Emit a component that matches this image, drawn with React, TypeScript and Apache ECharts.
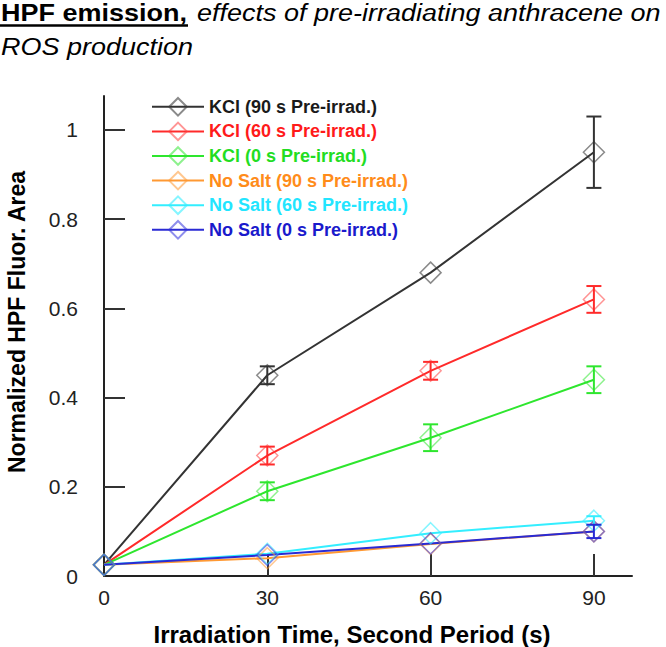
import React, { useEffect, useRef } from "react";
import * as echarts from "echarts";

// ---------- data ----------
const times = [0, 30, 60, 90];

const seriesNames = [
  "KCl (90 s Pre-irrad.)",
  "KCl (60 s Pre-irrad.)",
  "KCl (0 s Pre-irrad.)",
  "No Salt (90 s Pre-irrad.)",
  "No Salt (60 s Pre-irrad.)",
  "No Salt (0 s Pre-irrad.)",
];

const kcl90 = [0.025, 0.45, 0.68, 0.95];
const kcl60 = [0.025, 0.27, 0.46, 0.62];
const kcl0 = [0.025, 0.19, 0.31, 0.44];
const noSalt90 = [0.025, 0.04, 0.072, 0.1];
const noSalt60 = [0.025, 0.05, 0.096, 0.124];
const noSalt0 = [0.025, 0.047, 0.073, 0.1];

const kcl90Err = [0, 0.02, 0, 0.08];
const kcl60Err = [0, 0.02, 0.02, 0.03];
const kcl0Err = [0, 0.02, 0.03, 0.03];
const noSalt90Err = [0, 0, 0, 0];
const noSalt60Err = [0, 0, 0, 0.01];
const noSalt0Err = [0, 0, 0, 0.015];

const xTickValues = [30, 60, 90];
const xLabelValues = [0, 30, 60, 90];
const yTickValues = [0.2, 0.4, 0.6, 0.8, 1];
const yLabelValues = [0, 0.2, 0.4, 0.6, 0.8, 1];

const titleBold = "HPF emission,";
const titleItalic1 = "effects of pre-irradiating anthracene on";
const titleItalic2 = "ROS production";
const xTitle = "Irradiation Time, Second Period (s)";
const yTitle = "Normalized HPF Fluor. Area";

// ---------- styles ----------
const lineColors = ["#333333", "#ff2a2a", "#2ee62e", "#ff9933", "#33eeff", "#2a2ad4"];
const markerColors = [
  "rgba(60,60,60,0.6)",
  "rgba(255,60,60,0.55)",
  "rgba(50,230,50,0.55)",
  "rgba(255,153,51,0.55)",
  "rgba(51,238,255,0.6)",
  "rgba(50,50,220,0.55)",
];
const textColors = ["#1a1a1a", "#ff1a1a", "#22dd22", "#ff8c1a", "#22e5ff", "#1a1acc"];

const FONT = "'Liberation Sans', Arial, sans-serif";

export default function App() {
  const ref = useRef<HTMLDivElement>(null);

  useEffect(() => {
    if (!ref.current) return;
    const chart = echarts.init(ref.current, undefined, { renderer: "svg" });

    const values = [kcl90, kcl60, kcl0, noSalt90, noSalt60, noSalt0];
    const errs = [kcl90Err, kcl60Err, kcl0Err, noSalt90Err, noSalt60Err, noSalt0Err];

    const lineSeries = values.map((vals, i) => ({
      type: "line",
      name: seriesNames[i],
      data: times.map((t, j) => [t, vals[j]]),
      symbol: "diamond",
      symbolSize: 21,
      showAllSymbol: true,
      lineStyle: { color: lineColors[i], width: 2 },
      itemStyle: { color: "rgba(0,0,0,0)", borderColor: markerColors[i], borderWidth: 1.5 },
      emphasis: { disabled: true },
      z: 2,
    }));

    const errSeries = values.map((vals, i) => ({
      type: "custom",
      name: seriesNames[i] + " error",
      data: times.map((t, j) => [t, vals[j], errs[i][j]]),
      z: 3,
      renderItem: (params: any, api: any) => {
        const x = api.value(0);
        const y = api.value(1);
        const e = api.value(2);
        if (!e) return { type: "group", children: [] };
        const top = api.coord([x, y + e]);
        const bot = api.coord([x, y - e]);
        const hw = 7.5;
        const st = { stroke: lineColors[i], lineWidth: 2 };
        return {
          type: "group",
          children: [
            { type: "line", shape: { x1: top[0], y1: top[1], x2: bot[0], y2: bot[1] }, style: st },
            { type: "line", shape: { x1: top[0] - hw, y1: top[1], x2: top[0] + hw, y2: top[1] }, style: st },
            { type: "line", shape: { x1: bot[0] - hw, y1: bot[1], x2: bot[0] + hw, y2: bot[1] }, style: st },
          ],
        };
      },
    }));

    const option: any = {
      animation: false,
      backgroundColor: "#ffffff",
      grid: {
        left: 104,
        right: 34,
        top: 96,
        bottom: 71,
        containLabel: false,
        outerBoundsMode: "none",
      },
      legend: {
        orient: "vertical",
        left: 146,
        top: 92,
        itemWidth: 52,
        itemHeight: 22,
        itemGap: 5,
        selectedMode: false,
        data: seriesNames.map((n, i) => ({
          name: n,
          textStyle: {
            color: textColors[i],
            fontSize: 18,
            fontWeight: "bold",
            fontFamily: FONT,
          },
        })),
      },
      xAxis: {
        type: "value",
        min: 0,
        max: 97,
        splitLine: { show: false },
        axisLine: { show: true, lineStyle: { color: "#222", width: 2 } },
        axisTick: {
          show: true,
          inside: true,
          length: 22,
          customValues: xTickValues,
          lineStyle: { color: "#333", width: 2 },
        },
        axisLabel: {
          customValues: xLabelValues,
          color: "#222",
          fontSize: 21,
          fontFamily: FONT,
          margin: 11,
          lineHeight: 21,
        },
      },
      yAxis: {
        type: "value",
        min: 0,
        max: 1.076,
        splitLine: { show: false },
        axisLine: { show: true, lineStyle: { color: "#222", width: 2 } },
        axisTick: {
          show: true,
          inside: true,
          length: 21,
          customValues: yTickValues,
          lineStyle: { color: "#333", width: 2 },
        },
        axisLabel: {
          customValues: yLabelValues,
          color: "#222",
          fontSize: 21,
          fontFamily: FONT,
          margin: 26,
        },
      },
      graphic: [
        {
          type: "text",
          x: 1,
          y: 12.5,
          scaleX: 1.125,
          style: {
            text: titleBold,
            font: `bold 24px ${FONT}`,
            fill: "#000",
            textVerticalAlign: "middle",
            verticalAlign: "middle",
          },
        },
        {
          type: "line",
          shape: { x1: 0, y1: 25.5, x2: 188, y2: 25.5 },
          style: { stroke: "#000", lineWidth: 2.5 },
        },
        {
          type: "text",
          x: 197,
          y: 12.5,
          scaleX: 1.125,
          style: {
            text: titleItalic1,
            font: `italic 24px ${FONT}`,
            fill: "#000",
            textVerticalAlign: "middle",
            verticalAlign: "middle",
          },
        },
        {
          type: "text",
          x: 1,
          y: 46.5,
          scaleX: 1.125,
          style: {
            text: titleItalic2,
            font: `italic 24px ${FONT}`,
            fill: "#000",
            textVerticalAlign: "middle",
            verticalAlign: "middle",
          },
        },
        {
          type: "text",
          x: 352,
          y: 634,
          style: {
            text: xTitle,
            font: `bold 24px ${FONT}`,
            fill: "#000",
            align: "center",
            textAlign: "center",
            verticalAlign: "middle",
            textVerticalAlign: "middle",
          },
        },
        {
          type: "text",
          x: 17,
          y: 322,
          rotation: Math.PI / 2,
          style: {
            text: yTitle,
            font: `bold 23px ${FONT}`,
            fill: "#000",
            align: "center",
            textAlign: "center",
            verticalAlign: "middle",
            textVerticalAlign: "middle",
          },
        },
      ],
      series: [...lineSeries, ...errSeries],
    };

    chart.setOption(option);
    return () => chart.dispose();
  }, []);

  return (
    <div
      ref={ref}
      style={{ position: "fixed", left: 0, top: 0, width: 666, height: 647, background: "#fff" }}
    />
  );
}
